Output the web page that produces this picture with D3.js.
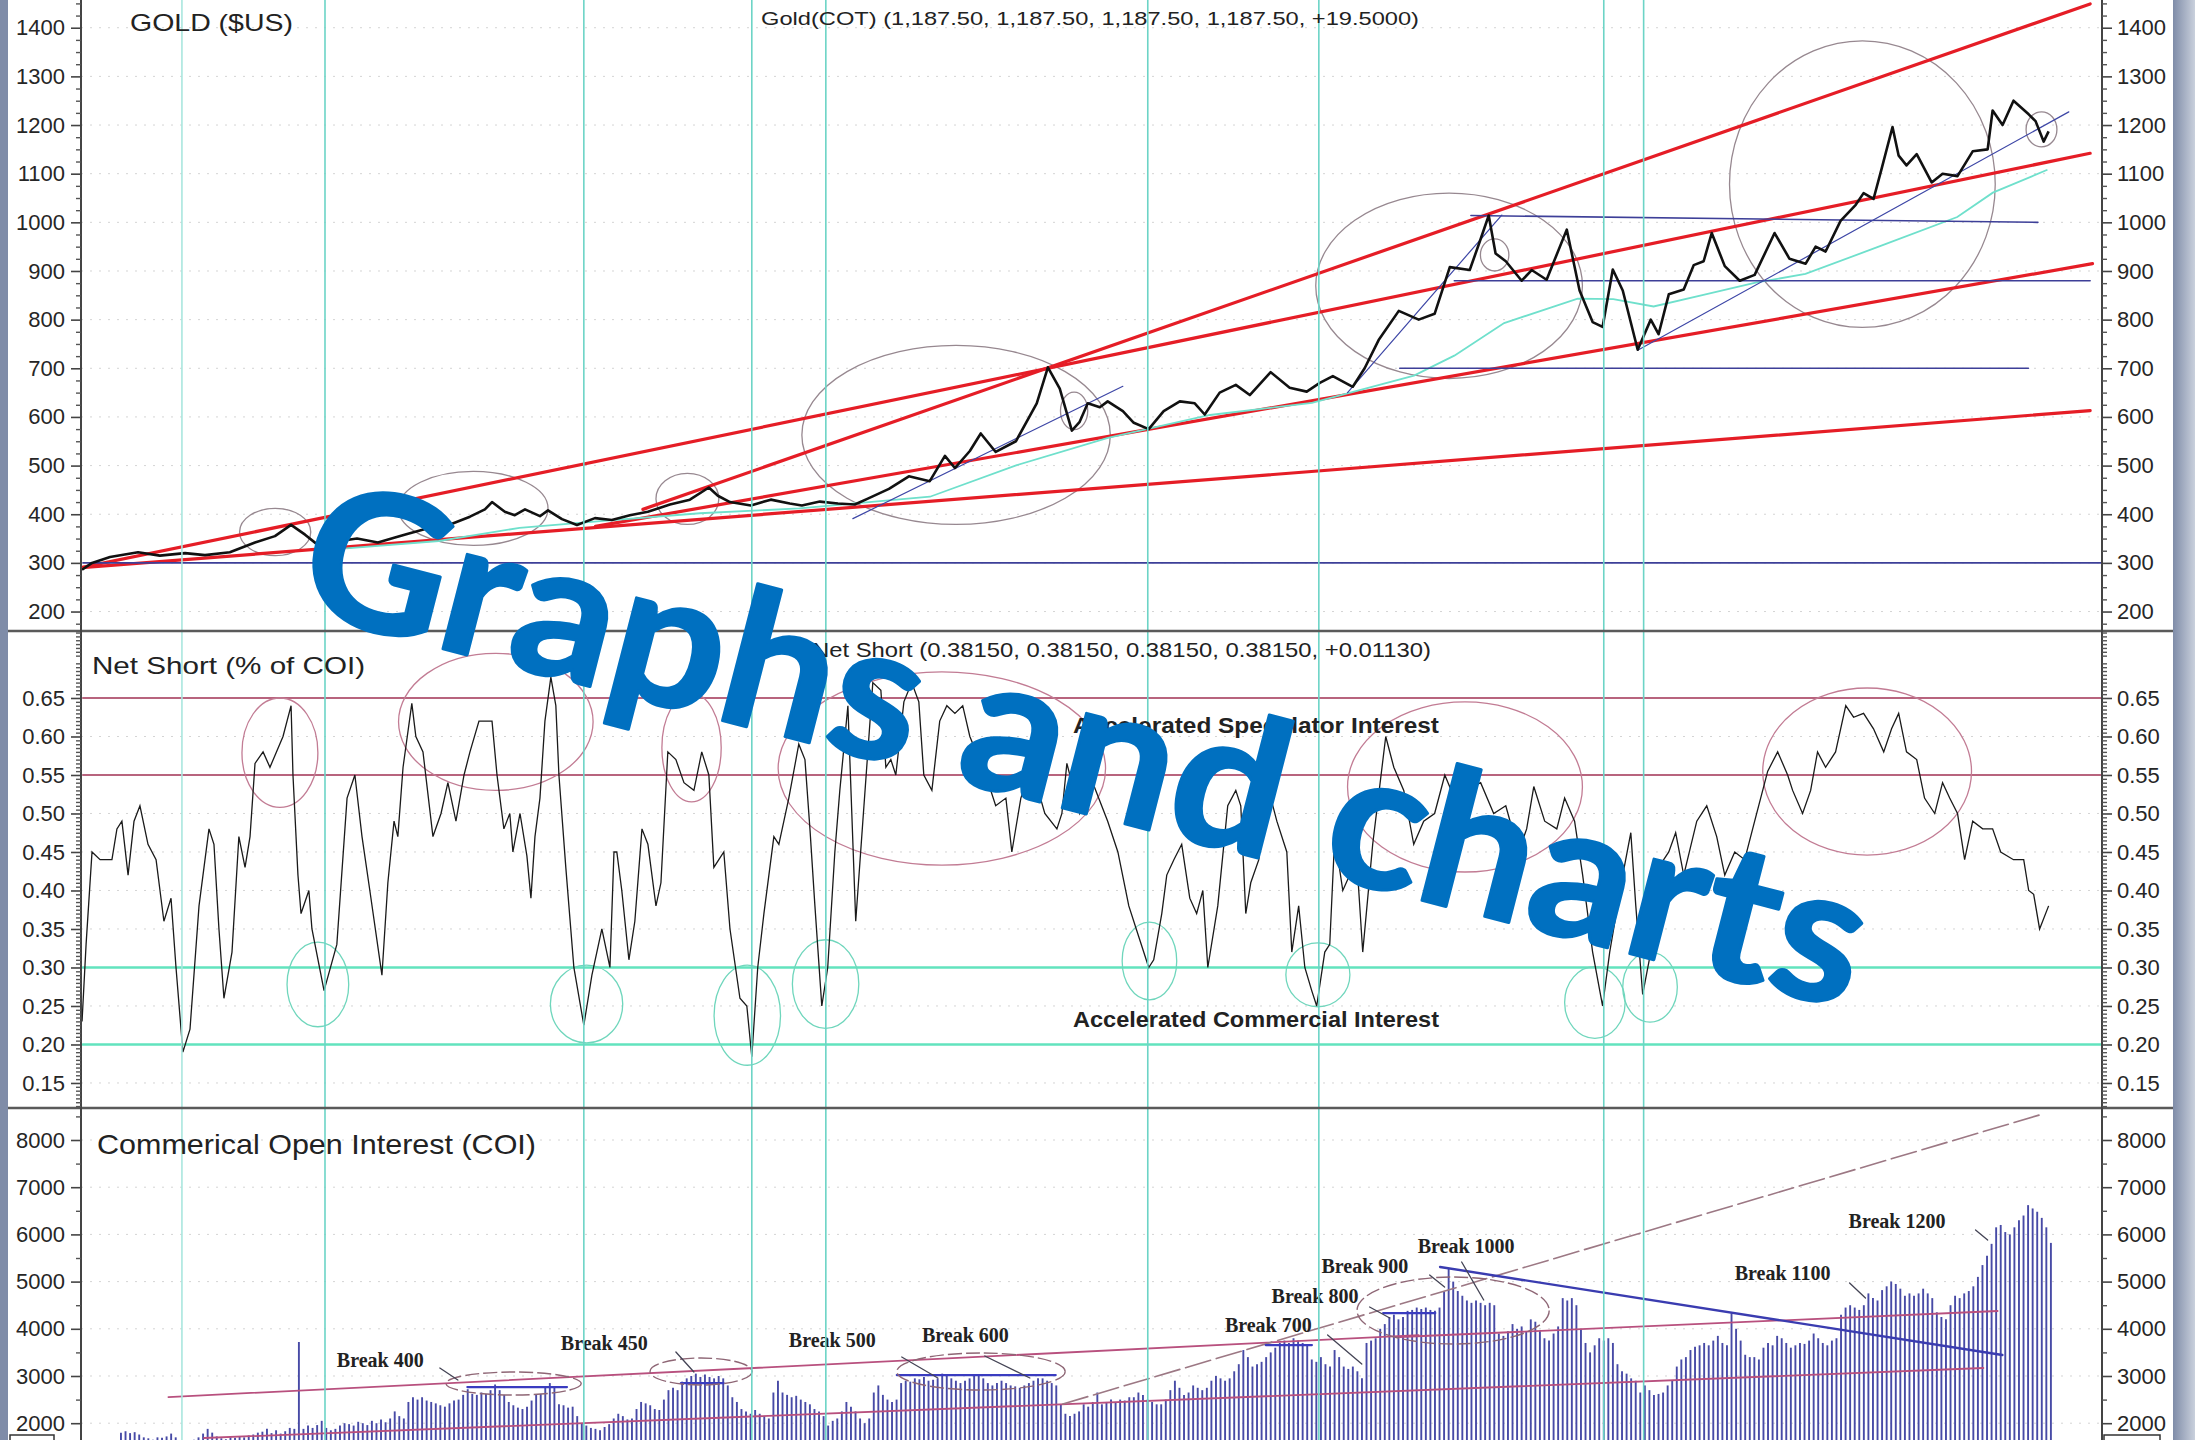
<!DOCTYPE html>
<html>
<head>
<meta charset="utf-8">
<title>Gold COT</title>
<script src="https://d3js.org/d3.v7.min.js"></script>
<style>
  body { margin: 0; background: #fff; }
  #main { width: 2195px; height: 1440px; }
</style>
</head>
<body>
<div id="main"></div>
<script>
// gold close, [decimal year, $]
var goldData = [
  [2002.286,286],[2002.328,300],[2002.404,312],[2002.522,322],[2002.614,315],[2002.720,320],[2002.804,316],
  [2002.909,322],[2003.015,342],[2003.099,355],[2003.167,378],[2003.226,358],[2003.285,335],[2003.373,345],
  [2003.445,350],[2003.533,342],[2003.605,352],[2003.660,360],[2003.752,372],[2003.832,378],[2003.921,395],
  [2003.984,410],[2004.014,425],[2004.068,405],[2004.110,398],[2004.153,410],[2004.216,396],[2004.250,408],
  [2004.309,390],[2004.372,378],[2004.448,392],[2004.519,388],[2004.595,398],[2004.671,405],[2004.764,420],
  [2004.848,430],[2004.928,455],[2004.966,438],[2005.017,425],[2005.105,418],[2005.189,430],[2005.269,422],
  [2005.320,418],[2005.396,426],[2005.472,422],[2005.543,420],[2005.598,432],[2005.687,452],[2005.771,478],
  [2005.859,468],[2005.923,520],[2005.965,495],[2006.028,530],[2006.074,566],[2006.137,528],[2006.222,550],
  [2006.310,628],[2006.357,702],[2006.407,658],[2006.458,572],[2006.491,590],[2006.525,628],[2006.576,620],
  [2006.609,632],[2006.673,612],[2006.719,588],[2006.782,575],[2006.845,612],[2006.913,632],[2006.976,628],
  [2007.018,605],[2007.081,650],[2007.149,666],[2007.208,645],[2007.296,692],[2007.376,660],[2007.448,652],
  [2007.503,670],[2007.558,684],[2007.642,662],[2007.692,700],[2007.751,758],[2007.836,818],[2007.920,800],
  [2007.987,812],[2008.051,908],[2008.135,902],[2008.177,960],[2008.215,1014],[2008.244,936],[2008.287,920],
  [2008.354,880],[2008.396,902],[2008.459,882],[2008.544,985],[2008.598,860],[2008.653,795],[2008.695,785],
  [2008.738,903],[2008.780,860],[2008.843,738],[2008.898,800],[2008.931,770],[2008.974,852],[2009.037,862],
  [2009.079,912],[2009.121,920],[2009.155,978],[2009.210,910],[2009.273,880],[2009.336,892],[2009.420,978],
  [2009.483,925],[2009.551,915],[2009.593,950],[2009.635,940],[2009.698,1003],[2009.762,1036],[2009.795,1060],
  [2009.837,1048],[2009.871,1110],[2009.917,1196],[2009.943,1137],[2009.976,1117],[2010.019,1140],[2010.082,1082],
  [2010.128,1100],[2010.191,1095],[2010.255,1146],[2010.318,1150],[2010.339,1230],[2010.381,1200],[2010.427,1250],
  [2010.491,1222],[2010.520,1208],[2010.554,1166],[2010.575,1187]
];

// moving average drawn under the price
var goldAvg = [
  [2003.40,330],[2003.79,345],[2004.13,372],[2004.47,386],[2004.89,402],[2005.31,412],[2005.86,436],
  [2006.22,500],[2006.61,557],[2007.04,604],[2007.47,629],[2007.90,685],[2008.07,726],[2008.28,793],
  [2008.59,843],[2008.74,842],[2008.91,827],[2009.12,851],[2009.34,876],[2009.55,894],[2009.87,952],
  [2010.19,1011],[2010.34,1061],[2010.57,1108]
];

// net short as fraction of commercial open interest, [decimal year, value]
var netShort = [
  [2002.286,0.23],[2002.303,0.33],[2002.328,0.45],[2002.362,0.44],[2002.412,0.44],[2002.433,0.48],[2002.454,0.49],
  [2002.480,0.42],[2002.505,0.49],[2002.530,0.51],[2002.564,0.46],[2002.598,0.44],[2002.631,0.36],[2002.661,0.39],
  [2002.682,0.30],[2002.711,0.19],[2002.741,0.22],[2002.779,0.38],[2002.821,0.48],[2002.842,0.46],[2002.863,0.35],
  [2002.884,0.26],[2002.918,0.32],[2002.947,0.47],[2002.973,0.43],[2002.994,0.47],[2003.015,0.565],[2003.049,0.58],
  [2003.078,0.56],[2003.133,0.60],[2003.167,0.64],[2003.175,0.55],[2003.196,0.42],[2003.209,0.37],[2003.242,0.40],
  [2003.255,0.35],[2003.306,0.27],[2003.360,0.33],[2003.403,0.52],[2003.436,0.55],[2003.466,0.47],[2003.499,0.40],
  [2003.550,0.29],[2003.575,0.41],[2003.601,0.49],[2003.617,0.47],[2003.639,0.56],[2003.676,0.643],[2003.693,0.60],
  [2003.723,0.58],[2003.765,0.47],[2003.799,0.50],[2003.828,0.54],[2003.862,0.49],[2003.896,0.55],[2003.921,0.58],
  [2003.959,0.62],[2004.014,0.62],[2004.035,0.55],[2004.064,0.48],[2004.089,0.50],[2004.102,0.45],[2004.132,0.50],
  [2004.161,0.445],[2004.178,0.39],[2004.195,0.47],[2004.216,0.52],[2004.237,0.62],[2004.262,0.677],[2004.283,0.64],
  [2004.296,0.55],[2004.325,0.43],[2004.359,0.30],[2004.401,0.225],[2004.435,0.29],[2004.477,0.35],[2004.511,0.30],
  [2004.528,0.45],[2004.540,0.45],[2004.561,0.40],[2004.591,0.31],[2004.616,0.36],[2004.646,0.48],[2004.671,0.46],
  [2004.705,0.38],[2004.726,0.41],[2004.755,0.58],[2004.789,0.57],[2004.823,0.54],[2004.865,0.53],[2004.898,0.58],
  [2004.928,0.55],[2004.949,0.43],[2004.970,0.44],[2004.991,0.45],[2005.017,0.35],[2005.059,0.26],[2005.088,0.25],
  [2005.109,0.184],[2005.134,0.30],[2005.160,0.37],[2005.202,0.47],[2005.223,0.46],[2005.265,0.52],[2005.307,0.59],
  [2005.333,0.57],[2005.354,0.48],[2005.375,0.38],[2005.404,0.25],[2005.429,0.30],[2005.459,0.45],[2005.480,0.53],
  [2005.514,0.64],[2005.547,0.36],[2005.577,0.49],[2005.619,0.67],[2005.653,0.66],[2005.674,0.56],[2005.695,0.57],
  [2005.716,0.55],[2005.750,0.645],[2005.783,0.67],[2005.813,0.645],[2005.834,0.55],[2005.868,0.53],[2005.901,0.62],
  [2005.931,0.64],[2005.965,0.63],[2005.998,0.64],[2006.028,0.60],[2006.095,0.55],[2006.137,0.51],[2006.180,0.52],
  [2006.205,0.45],[2006.243,0.52],[2006.289,0.56],[2006.344,0.50],[2006.395,0.48],[2006.416,0.50],[2006.437,0.565],
  [2006.491,0.50],[2006.546,0.54],[2006.609,0.49],[2006.652,0.45],[2006.698,0.38],[2006.740,0.34],[2006.782,0.30],
  [2006.803,0.31],[2006.837,0.37],[2006.858,0.42],[2006.888,0.44],[2006.921,0.46],[2006.955,0.39],[2006.984,0.37],
  [2007.010,0.40],[2007.031,0.30],[2007.073,0.38],[2007.115,0.51],[2007.149,0.53],[2007.170,0.51],[2007.191,0.37],
  [2007.212,0.41],[2007.246,0.44],[2007.267,0.51],[2007.288,0.53],[2007.322,0.49],[2007.364,0.45],[2007.385,0.32],
  [2007.414,0.38],[2007.440,0.30],[2007.469,0.27],[2007.490,0.25],[2007.524,0.32],[2007.545,0.33],[2007.566,0.47],
  [2007.600,0.40],[2007.629,0.42],[2007.663,0.42],[2007.684,0.32],[2007.726,0.46],[2007.781,0.60],[2007.815,0.56],
  [2007.857,0.53],[2007.899,0.46],[2007.941,0.49],[2007.987,0.50],[2008.030,0.55],[2008.084,0.51],[2008.114,0.53],
  [2008.181,0.54],[2008.236,0.50],[2008.287,0.51],[2008.341,0.45],[2008.375,0.48],[2008.405,0.535],[2008.451,0.49],
  [2008.502,0.48],[2008.535,0.52],[2008.577,0.49],[2008.611,0.42],[2008.653,0.32],[2008.695,0.25],[2008.725,0.32],
  [2008.780,0.42],[2008.814,0.475],[2008.835,0.38],[2008.864,0.265],[2008.898,0.32],[2008.931,0.43],[2008.974,0.45],
  [2009.003,0.475],[2009.037,0.42],[2009.092,0.49],[2009.134,0.51],[2009.176,0.47],[2009.210,0.42],[2009.252,0.45],
  [2009.294,0.44],[2009.336,0.49],[2009.391,0.555],[2009.433,0.58],[2009.475,0.55],[2009.496,0.53],[2009.538,0.50],
  [2009.572,0.53],[2009.601,0.58],[2009.635,0.56],[2009.677,0.58],[2009.720,0.64],[2009.753,0.625],[2009.795,0.63],
  [2009.837,0.61],[2009.880,0.58],[2009.913,0.61],[2009.943,0.63],[2009.976,0.58],[2010.019,0.57],[2010.052,0.52],
  [2010.095,0.50],[2010.128,0.54],[2010.158,0.52],[2010.191,0.50],[2010.221,0.44],[2010.255,0.49],[2010.297,0.48],
  [2010.339,0.48],[2010.373,0.45],[2010.427,0.44],[2010.470,0.44],[2010.491,0.40],[2010.512,0.395],[2010.537,0.35],
  [2010.575,0.38]
];

// weekly commercial open interest, first week starts at coiStart
var coiStart = 2002.45;
var coiValues = [
  1800,1830,1790,1810,1760,1700,1680,1650,1700,1690,1720,1780,1700,1640,1600,1620,1650,1700,1780,1880,
  1800,1720,1680,1660,1700,1690,1720,1700,1740,1760,1800,1820,1880,1790,1850,1780,1830,1900,1880,3720,
  1880,1950,1900,1960,2050,1900,1850,1880,1950,2000,1980,1950,2030,2000,1960,2050,2000,2080,2020,2100,
  2250,2150,2100,2450,2550,2500,2550,2480,2450,2420,2380,2350,2420,2480,2500,2600,2720,2620,2600,2650,
  2620,2700,2820,2700,2600,2450,2380,2330,2300,2350,2480,2600,2620,2780,2850,2780,2400,2380,2330,2350,
  2150,2000,1950,1900,1880,1850,1920,1980,2100,2200,2150,2080,2100,2300,2450,2420,2380,2300,2280,2500,
  2700,2750,2700,2880,2950,3000,3050,2980,3030,2980,2950,3000,2950,2800,2550,2450,2300,2250,2200,2280,
  2200,2150,2100,2650,2900,2650,2600,2550,2580,2500,2450,2400,2300,2250,2150,1950,2050,2100,2250,2450,
  2350,2250,2100,2000,2100,2650,2800,2600,2500,2450,2500,2850,2900,2880,2950,2930,2980,2900,2920,2950,
  3050,3000,2950,2900,2850,2900,2950,3000,3020,2950,2850,2800,2850,2900,2850,2800,2780,2750,2800,2850,
  2900,2950,2950,2900,2850,2800,2400,2200,2150,2200,2250,2400,2350,2450,2650,2400,2450,2500,2450,2500,
  2480,2550,2550,2650,2600,2500,2450,2400,2400,2500,2700,2900,2750,2600,2650,2800,2750,2700,2750,2900,
  3000,2950,2900,2950,3100,3250,3550,3400,3200,3250,3300,3400,3500,3600,3700,3750,3700,3800,3750,3700,
  3650,3350,3300,3400,3250,3200,3550,3400,3200,3150,3200,3100,2950,3700,3750,3800,4000,4100,4250,4300,
  4200,4250,4380,4400,4450,4420,4450,4400,4380,4450,4790,5280,5000,4800,4700,4600,4550,4600,4550,4500,
  4550,4500,3900,3850,3950,4100,4000,4050,3950,4200,4150,3950,3800,3750,3900,4050,4650,4600,4650,4500,
  4000,3700,3500,3650,3800,3750,3800,3700,3250,3100,3050,2950,2900,2650,2800,2700,2600,2620,2650,2800,
  2900,3200,3350,3400,3550,3620,3650,3700,3650,3750,3850,3700,3650,4330,4000,3750,3450,3400,3400,3350,
  3600,3700,3650,3850,3800,3700,3600,3650,3700,3680,3750,3900,3800,3700,3650,3750,3800,4300,4450,4500,
  4450,4400,4500,4750,4650,4600,4820,4900,5000,4950,4850,4700,4750,4700,4750,4850,4750,4650,4350,4250,
  4200,4500,4700,4650,4750,4800,4900,5100,5350,5550,5800,6150,6200,6050,6000,6150,6300,6400,6620,6550,
  6480,6350,6150,5820
];

// dates of the vertical cyan markers (net short lows)
var cyanMarks = [2002.707, 2003.310, 2004.401, 2005.109, 2005.421, 2006.778, 2007.499, 2008.700, 2008.868];

var goldTicks = [200, 300, 400, 500, 600, 700, 800, 900, 1000, 1100, 1200, 1300, 1400];
var netTicks = [0.15, 0.20, 0.25, 0.30, 0.35, 0.40, 0.45, 0.50, 0.55, 0.60, 0.65];
var coiTicks = [2000, 3000, 4000, 5000, 6000, 7000, 8000];

// drawn annotation lines, [t0, v0, t1, v1]
var redTrends = [
  [2002.28, 290, 2010.75, 613],
  [2002.28, 290, 2010.75, 1142],
  [2004.65, 410, 2010.75, 1449],
  [2004.45, 375, 2010.76, 915]
];
var blueLevels = [
  [2002.29, 300, 2010.80, 300],
  [2008.14, 1014, 2010.53, 1000],
  [2008.07, 880, 2010.75, 880],
  [2007.84, 700, 2010.49, 700]
];
var thinTrends = [
  [2005.535, 391, 2006.673, 663],
  [2007.62, 650, 2008.27, 1015],
  [2008.843, 737, 2010.66, 1227]
];
// ellipses as bounding boxes [t0, t1, vTop, vBottom]
var goldRings = [
  [2002.95, 2003.25, 412, 315], [2003.62, 2004.25, 488, 336], [2004.705, 2004.97, 484, 379],
  [2005.32, 2006.62, 747, 379], [2006.41, 2006.525, 651, 574], [2007.486, 2008.61, 1060, 679],
  [2008.18, 2008.30, 966, 900], [2009.23, 2010.35, 1373, 784], [2010.48, 2010.61, 1227, 1155]
];
var specRings = [
  [2002.96, 2003.28, 0.65, 0.508], [2003.62, 2004.44, 0.708, 0.53], [2004.73, 2004.98, 0.656, 0.515],
  [2005.22, 2006.60, 0.684, 0.433], [2007.62, 2008.61, 0.645, 0.424], [2009.37, 2010.25, 0.663, 0.446]
];
var commRings = [
  [2003.15, 2003.41, 0.333, 0.223], [2004.26, 2004.565, 0.303, 0.202], [2004.95, 2005.23, 0.303, 0.173],
  [2005.28, 2005.56, 0.336, 0.221], [2006.67, 2006.90, 0.359, 0.258], [2007.36, 2007.63, 0.332, 0.249],
  [2008.535, 2008.79, 0.301, 0.208], [2008.78, 2009.01, 0.32, 0.229]
];
var coiRings = [
  [2003.82, 2004.39, 3084, 2597], [2004.68, 2005.11, 3381, 2809],
  [2005.72, 2006.43, 3487, 2703], [2007.66, 2008.47, 5097, 3677]
];
var coiMauve = [
  [2002.65, 2554, 2007.92, 3868],
  [2002.80, 1686, 2010.30, 3169],
  [2007.84, 3826, 2010.36, 4377]
];
var coiBlue = [2008.01, 5310, 2010.38, 3445];
var coiDashed = [2006.42, 2407, 2010.55, 8550];
var breakLevels = [
  [2003.91, 2004.33, 2766], [2004.81, 2004.99, 2851], [2005.72, 2006.39, 3020],
  [2007.275, 2007.47, 3656], [2007.77, 2007.99, 4334]
];
var breakLabels = ["Break 400", "Break 450", "Break 500", "Break 600", "Break 700",
                   "Break 800", "Break 900", "Break 1000", "Break 1100", "Break 1200"];
var breakAt = [
  [2003.36, 3190], [2004.304, 3550], [2005.265, 3614], [2005.826, 3720], [2007.103, 3932],
  [2007.30, 4546], [2007.51, 5182], [2007.916, 5606], [2009.252, 5033], [2009.732, 6135]
];
var breakPointers = [
  [2003.794, 3169, 2003.870, 2914], [2004.789, 3508, 2004.865, 3084], [2005.741, 3402, 2005.893, 2957],
  [2006.091, 3423, 2006.281, 2957], [2007.536, 3868, 2007.680, 3253], [2007.713, 4461, 2007.798, 4228],
  [2007.966, 5139, 2008.029, 4885], [2008.101, 5415, 2008.194, 4610], [2009.736, 4970, 2009.803, 4652],
  [2010.267, 6093, 2010.318, 5881]
];

// ---- layout ----
var W = 2195, H = 1440,
    axisL = 81, axisR = 2102,
    topY = [0, 631], midY = [631, 1108], botY = [1108, 1440];

var svg = d3.select("#main").append("svg")
  .attr("width", W).attr("height", H)
  .style("font-family", "'Liberation Sans', Arial, sans-serif");

svg.append("rect").attr("width", W).attr("height", H).attr("fill", "#fff");

var x = d3.scaleLinear().domain([2002.29, 2010.80]).range([83, axisR]);
var yGold = d3.scaleLinear().domain([160, 1457]).range([topY[1], topY[0]]);
var yNet = d3.scaleLinear().domain([0.1175, 0.737]).range([midY[1], midY[0]]);
var yCoi = d3.scaleLinear().domain([1644, 8678]).range([botY[1], botY[0]]);

var defs = svg.append("defs");
function clip(id, ys) {
  defs.append("clipPath").attr("id", id).append("rect")
    .attr("x", axisL + 1).attr("y", ys[0])
    .attr("width", axisR - axisL - 2).attr("height", ys[1] - ys[0]);
}
clip("cTop", topY); clip("cMid", midY); clip("cBot", botY);

var grad = defs.append("linearGradient").attr("id", "edge");
grad.append("stop").attr("offset", "0%").attr("stop-color", "#7f8ca8");
grad.append("stop").attr("offset", "100%").attr("stop-color", "#c9d0dc");

var gTop = svg.append("g").attr("clip-path", "url(#cTop)");
var gMid = svg.append("g").attr("clip-path", "url(#cMid)");
var gBot = svg.append("g").attr("clip-path", "url(#cBot)");

// dotted horizontal grid
function grid(g, scale, ticks) {
  g.selectAll(null).data(ticks).enter().append("line")
    .attr("x1", axisL).attr("x2", axisR)
    .attr("y1", scale).attr("y2", scale)
    .attr("stroke", "#d4d4d4").attr("stroke-width", 1)
    .attr("stroke-dasharray", "2,7");
}
grid(gTop, yGold, goldTicks);
grid(gMid, yNet, netTicks);
grid(gBot, yCoi, coiTicks);

// vertical cyan markers through all three panels
svg.append("g").selectAll("line").data(cyanMarks).enter().append("line")
  .attr("x1", x).attr("x2", x).attr("y1", 0).attr("y2", H)
  .attr("stroke", function(d, i) { return i === 0 ? "#a9e6de" : "#6cd4c6"; })
  .attr("stroke-width", 1.6);

function segs(g, data, xs, ys, color, width, dash) {
  g.selectAll(null).data(data).enter().append("line")
    .attr("x1", function(d) { return xs(d[0]); }).attr("y1", function(d) { return ys(d[1]); })
    .attr("x2", function(d) { return xs(d[2]); }).attr("y2", function(d) { return ys(d[3]); })
    .attr("stroke", color).attr("stroke-width", width)
    .attr("stroke-dasharray", dash || null).attr("stroke-linecap", "round");
}
function rings(g, data, ys, color, width, dash) {
  g.selectAll(null).data(data).enter().append("ellipse")
    .attr("cx", function(d) { return (x(d[0]) + x(d[1])) / 2; })
    .attr("cy", function(d) { return (ys(d[2]) + ys(d[3])) / 2; })
    .attr("rx", function(d) { return (x(d[1]) - x(d[0])) / 2; })
    .attr("ry", function(d) { return (ys(d[3]) - ys(d[2])) / 2; })
    .attr("fill", "none").attr("stroke", color).attr("stroke-width", width)
    .attr("stroke-dasharray", dash || null);
}

// ---- top panel: gold ----
rings(gTop, goldRings, yGold, "#978890", 1.3);
segs(gTop, redTrends, x, yGold, "#e51d26", 3.2);
gTop.append("path").datum(goldAvg)
  .attr("d", d3.line().x(function(d) { return x(d[0]); }).y(function(d) { return yGold(d[1]); }))
  .attr("fill", "none").attr("stroke", "#6fe0cc").attr("stroke-width", 1.8);
segs(gTop, blueLevels, x, yGold, "#3d3f98", 1.6);
segs(gTop, thinTrends, x, yGold, "#3d46a6", 1.2);
gTop.append("path").datum(goldData)
  .attr("d", d3.line().x(function(d) { return x(d[0]); }).y(function(d) { return yGold(d[1]); }))
  .attr("fill", "none").attr("stroke", "#111").attr("stroke-width", 2.6)
  .attr("stroke-linejoin", "round");

// ---- middle panel: net short ----
segs(gMid, [[2002.29, 0.65, 2010.80, 0.65], [2002.29, 0.55, 2010.80, 0.55]], x, yNet, "#b8647e", 2);
segs(gMid, [[2002.29, 0.30, 2010.80, 0.30], [2002.29, 0.20, 2010.80, 0.20]], x, yNet, "#62e3be", 2.6);
rings(gMid, specRings, yNet, "#c27c94", 1.3);
rings(gMid, commRings, yNet, "#6fd6bc", 1.3);
gMid.append("path").datum(netShort)
  .attr("d", d3.line().x(function(d) { return x(d[0]); }).y(function(d) { return yNet(d[1]); }))
  .attr("fill", "none").attr("stroke", "#1a1a1a").attr("stroke-width", 1.3);

// ---- bottom panel: commercial open interest ----
gBot.selectAll(".bar").data(coiValues).enter().append("line").attr("class", "bar")
  .attr("x1", function(d, i) { return x(coiStart + i / 52); })
  .attr("x2", function(d, i) { return x(coiStart + i / 52); })
  .attr("y1", yCoi).attr("y2", H)
  .attr("stroke", "#474aa6").attr("stroke-width", 1.9);
segs(gBot, coiMauve, x, yCoi, "#b8507e", 1.8);
segs(gBot, [coiDashed], x, yCoi, "#9c7884", 1.6, "26,6");
segs(gBot, [coiBlue], x, yCoi, "#3a3cb0", 2.4);
segs(gBot, breakLevels.map(function(d) { return [d[0], d[2], d[1], d[2]]; }), x, yCoi, "#3a3cc0", 2.2);
rings(gBot, coiRings, yCoi, "#8e6675", 1.4, "14,4");
segs(gBot, breakPointers, x, yCoi, "#445", 1.3);
gBot.selectAll(null).data(breakLabels).enter().append("text")
  .attr("x", function(d, i) { return x(breakAt[i][0]); })
  .attr("y", function(d, i) { return yCoi(breakAt[i][1]); })
  .attr("font-family", "'Liberation Serif', 'Times New Roman', serif")
  .attr("font-weight", "bold").attr("font-size", 20).attr("fill", "#222")
  .text(function(d) { return d; });

// ---- frame & axes ----
svg.append("rect").attr("x", 0).attr("y", 0).attr("width", 8).attr("height", H).attr("fill", "#7f8ca8");
svg.append("rect").attr("x", 2173).attr("y", 0).attr("width", 22).attr("height", H).attr("fill", "url(#edge)");
[topY[1], midY[1]].forEach(function(yy) {
  svg.append("line").attr("x1", 8).attr("x2", 2173).attr("y1", yy).attr("y2", yy)
    .attr("stroke", "#5a5a5a").attr("stroke-width", 2.6);
});
[axisL, axisR].forEach(function(xx) {
  svg.append("line").attr("x1", xx).attr("x2", xx).attr("y1", 0).attr("y2", H)
    .attr("stroke", "#444").attr("stroke-width", 2);
});

function sideAxes(scale, major, minor, fmt) {
  [[axisL, d3.axisLeft, 6], [axisR, d3.axisRight, 5]].forEach(function(s) {
    var gm = svg.append("g").attr("transform", "translate(" + s[0] + ",0)")
      .call(s[1](scale).tickValues(minor).tickSize(5).tickFormat(""));
    gm.select(".domain").remove();
    gm.selectAll("line").attr("stroke", "#555").attr("stroke-width", 1.4);
    var g = svg.append("g").attr("transform", "translate(" + s[0] + ",0)")
      .call(s[1](scale).tickValues(major).tickSize(10).tickPadding(s[2]).tickFormat(fmt));
    g.select(".domain").remove();
    g.attr("font-family", "'Liberation Sans', Arial, sans-serif").attr("font-size", 22);
    g.selectAll("line").attr("stroke", "#444").attr("stroke-width", 1.6);
    g.selectAll("text").attr("fill", "#262626");
  });
}
sideAxes(yGold, goldTicks,
  d3.range(175, 1451, 25).filter(function(v) { return v % 100 !== 0; }), d3.format("d"));
sideAxes(yNet, netTicks,
  d3.range(24, 148).filter(function(k) { return k % 10 !== 0; }).map(function(k) { return k * 0.005; }),
  d3.format(".2f"));
sideAxes(yCoi, coiTicks, [2500, 3500, 4500, 5500, 6500, 7500, 8500], d3.format("d"));

// small boxes cut off at the bottom edge
[[10, 44], [2104, 56]].forEach(function(b) {
  svg.append("rect").attr("x", b[0]).attr("y", 1435).attr("width", b[1]).attr("height", 20)
    .attr("fill", "#fff").attr("stroke", "#333").attr("stroke-width", 1.5);
});

// ---- panel titles ----
function label(txt, xx, yy, size, len, weight) {
  svg.append("text").attr("x", xx).attr("y", yy)
    .attr("font-size", size).attr("fill", "#222")
    .attr("font-weight", weight || "normal")
    .attr("textLength", len).attr("lengthAdjust", "spacingAndGlyphs")
    .text(txt);
}
label("GOLD ($US)", 130, 31, 24, 163);
label("Gold(COT) (1,187.50, 1,187.50, 1,187.50, 1,187.50, +19.5000)", 761, 25, 19, 658);
label("Net Short (% of COI)", 92, 674, 24, 273);
label("Net Short (0.38150, 0.38150, 0.38150, 0.38150, +0.01130)", 812, 657, 21, 619);
label("Accelerated Speculator Interest", 1073, 733, 22, 366, "bold");
label("Accelerated Commercial Interest", 1073, 1027, 22, 366, "bold");
label("Commerical Open Interest (COI)", 97, 1154, 28, 439);

// ---- overlay caption ----
svg.append("text")
  .attr("transform", "translate(292,610) rotate(14.4)")
  .attr("font-family", "Lato, 'Open Sans', sans-serif")
  .attr("font-weight", 700).attr("font-size", 190)
  .attr("fill", "#0070c0").attr("stroke", "#0070c0").attr("stroke-width", 3)
  .attr("stroke-linejoin", "round")
  .attr("textLength", 1606).attr("lengthAdjust", "spacingAndGlyphs")
  .text("Graphs and charts");
</script>
</body>
</html>
